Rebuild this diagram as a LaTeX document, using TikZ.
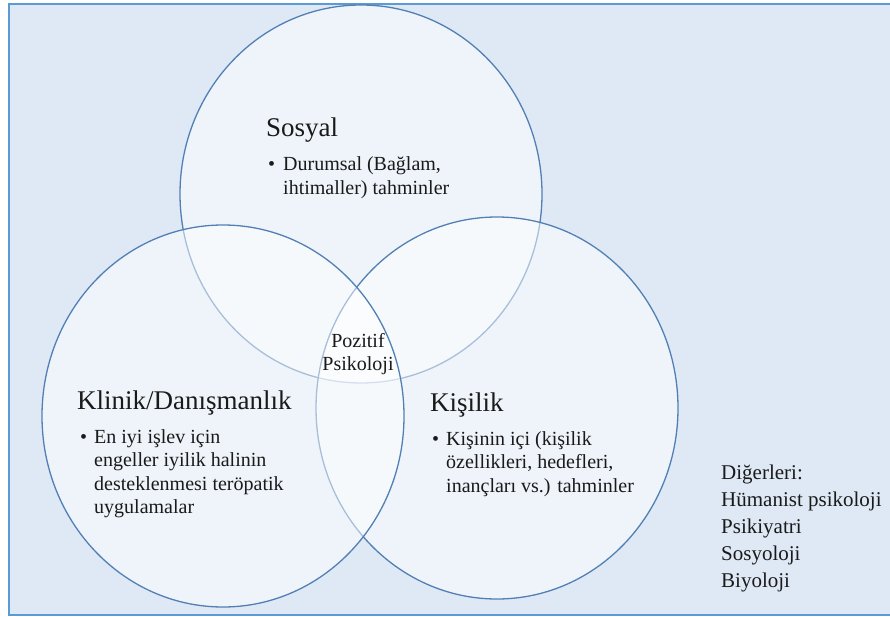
\documentclass[tikz,border=0pt]{standalone}
\usepackage{fontspec}
\setmainfont{Liberation Serif}
\newfontfamily\serifface{Liberation Serif}
\definecolor{panel}{HTML}{DEE9F5}
\definecolor{panelline}{HTML}{5B9BD5}
\definecolor{ring}{HTML}{5280B4}
\definecolor{ink}{HTML}{1A1A1A}
\newcommand\linesblock[1]{\begin{tabular}[t]{@{}l@{}}#1\end{tabular}}
\tikzset{
  area/.style={fill=white, fill opacity=0.5, draw=ring, line width=1.3pt},
  head/.style={anchor=base west, inner sep=0pt, text=ink, font=\serifface\fontsize{27}{32}\selectfont},
  body/.style={anchor=base west, inner sep=0pt, text=ink, font=\serifface\fontsize{20}{23.6}\selectfont},
  side/.style={anchor=base west, inner sep=0pt, text=ink, font=\serifface\fontsize{21}{27}\selectfont},
}
\begin{document}
\begin{tikzpicture}[x=1pt,y=-1pt]
\useasboundingbox (0,0) rectangle (890,617);
% panel
\draw[fill=panel, draw=panelline, line width=1.5pt] (9,4) rectangle (900,615);
% the three overlapping areas
\draw[area] (361,194) ellipse [x radius=181pt, y radius=189pt];
\draw[area] (497,408) ellipse [x radius=181pt, y radius=191pt];
\draw[area] (223,416) ellipse [x radius=181pt, y radius=191pt];

% Sosyal
\node[head] (sosH) at (266,137) {Sosyal};
\node[body] (sosB) at (268,171) {\textbullet};
\node[body] (sosT) at (283,171) {\linesblock{Durumsal (Bağlam,\\ ihtimaller) tahminler}};

% Klinik
\node[head] (kliH) at (77,409) {Klinik/Danışmanlık};
\node[body] (kliB) at (80,443) {\textbullet};
\node[body] (kliT) at (94,443) {\linesblock{En iyi işlev için\\ engeller iyilik halinin\\ desteklenmesi teröpatik\\ uygulamalar}};

% Kisilik
\node[head] (kisH) at (430,411) {Kişilik};
\node[body] (kisB) at (432,445) {\textbullet};
\node[body] (kisT) at (446,445) {\linesblock{Kişinin içi (kişilik\\ özellikleri, hedefleri,\\ inançları vs.) tahminler}};

% centre
\node[anchor=base, inner sep=0pt, text=ink, font=\serifface\fontsize{20}{23}\selectfont] (poz) at (358,347)
  {\begin{tabular}[t]{@{}c@{}}Pozitif\\ Psikoloji\end{tabular}};

% others
\node[side] (others) at (721,479) {\linesblock{Diğerleri:\\ Hümanist psikoloji\\ Psikiyatri\\ Sosyoloji\\ Biyoloji}};
\end{tikzpicture}
\end{document}
